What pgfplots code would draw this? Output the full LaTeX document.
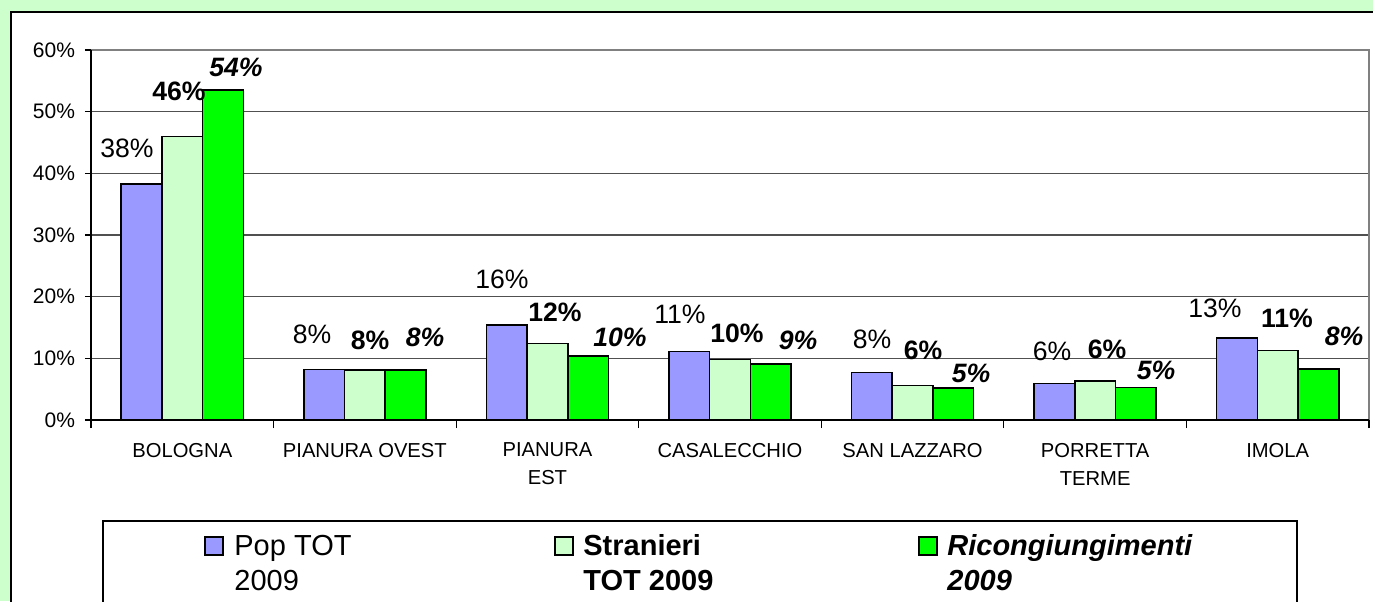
\documentclass[border=0pt]{standalone}
\usepackage{pgfplots}
\pgfplotsset{compat=1.18}
\usepackage{fontspec}
\setmainfont{Liberation Sans}
\definecolor{bgg}{HTML}{CCFFCC}
\definecolor{popc}{HTML}{9999FF}
\definecolor{strc}{HTML}{CCFFCC}
\definecolor{ricc}{HTML}{00FF00}
\definecolor{gridc}{HTML}{505050}
\definecolor{frameg}{HTML}{808080}
\begin{document}
\begin{tikzpicture}[x=0.5pt,y=0.5pt,
  lr/.style={font=\fontsize{13.3}{15}\selectfont, inner sep=0pt, anchor=center},
  lb/.style={font=\fontsize{13.3}{15}\selectfont\bfseries, inner sep=0pt, anchor=center},
  lbi/.style={font=\fontsize{13.3}{15}\selectfont\bfseries\itshape, inner sep=0pt, anchor=center},
  lg/.style={font=\fontsize{14.5}{17.5}\selectfont, inner sep=0pt, anchor=base west}]
\path[use as bounding box, clip] (0,0) rectangle (1373,601);
\fill[bgg] (0,0) rectangle (1373,601);
\draw[black, line width=1pt, fill=white] (11,589) rectangle (1400,-20);
\begin{axis}[
  at={(45.5pt,90.5pt)}, anchor=south west, scale only axis,
  width=639pt, height=185pt,
  xmin=-0.5, xmax=6.5, ymin=0, ymax=60,
  ybar=0pt, bar width=0.223,
  xtick={0,...,6},
  xticklabels={BOLOGNA, PIANURA OVEST, PIANURA\\EST, CASALECCHIO, SAN LAZZARO, PORRETTA\\TERME, IMOLA},
  xticklabel style={align=center, anchor=north, yshift=-5pt, font=\fontsize{10.1}{14}\selectfont},
  major x tick style={draw=none},
  minor xtick={-0.5,0.5,...,6.5},
  minor tick length=4pt,
  major tick length=3pt,
  tick align=outside,
  tick pos=left,
  tick style={black, line width=0.6pt},
  ytick={0,10,...,60},
  yticklabel={\pgfmathprintnumber{\tick}\%},
  yticklabel style={font=\fontsize{10.5}{12}\selectfont, xshift=-1.5pt},
  /pgf/number format/assume math mode=true,
  ymajorgrids, grid style={gridc, line width=0.6pt},
  axis line style={draw=none},
  clip=false,
]
\addplot[fill=popc, draw=black, line width=0.8pt] coordinates {(0,38.3) (1,8.2) (2,15.4) (3,11.1) (4,7.7) (5,5.9) (6,13.3)};
\addplot[fill=strc, draw=black, line width=0.8pt] coordinates {(0,46.0) (1,8.1) (2,12.4) (3,9.8) (4,5.6) (5,6.3) (6,11.3)};
\addplot[fill=ricc, draw=black, line width=0.8pt] coordinates {(0,53.5) (1,8.1) (2,10.4) (3,9.1) (4,5.2) (5,5.3) (6,8.3)};
\draw[frameg, line width=0.8pt] (rel axis cs:0,1) -- (rel axis cs:1,1) -- (rel axis cs:1,0);
\draw[black, line width=0.8pt] (rel axis cs:0,1) -- (rel axis cs:0,0) -- (rel axis cs:1,0);
\end{axis}
% data labels
\node[lr] at (127,453) {38\%};
\node[lb] at (179,510) {46\%};
\node[lbi] at (236,534) {54\%};
\node[lr] at (312,267) {8\%};
\node[lb] at (370,261) {8\%};
\node[lbi] at (425,264) {8\%};
\node[lr] at (502,322) {16\%};
\node[lb] at (555,289) {12\%};
\node[lbi] at (620,264) {10\%};
\node[lr] at (680,287) {11\%};
\node[lb] at (737,268) {10\%};
\node[lbi] at (798,261) {9\%};
\node[lr] at (872,262) {8\%};
\node[lb] at (923,251) {6\%};
\node[lbi] at (971,228) {5\%};
\node[lr] at (1052,250) {6\%};
\node[lb] at (1107,252) {6\%};
\node[lbi] at (1156,231) {5\%};
\node[lr] at (1215,293) {13\%};
\node[lb] at (1287,283) {11\%};
\node[lbi] at (1344,265) {8\%};
% legend
\draw[black, line width=0.6pt, fill=white] (103,80) rectangle (1297,-20);
\draw[fill=popc, line width=0.8pt] (205,64) rectangle (223,46);
\draw[fill=strc, line width=0.8pt] (555,64) rectangle (573,46);
\draw[fill=ricc, line width=0.8pt] (919,64) rectangle (937,46);
\node[lg] at (234,46) {Pop TOT};
\node[lg] at (234,11) {2009};
\node[lg] at (583,46) {\bfseries Stranieri};
\node[lg] at (583,11) {\bfseries TOT 2009};
\node[lg] at (947,46) {\bfseries\itshape Ricongiungimenti};
\node[lg] at (947,11) {\bfseries\itshape 2009};
\end{tikzpicture}
\end{document}
